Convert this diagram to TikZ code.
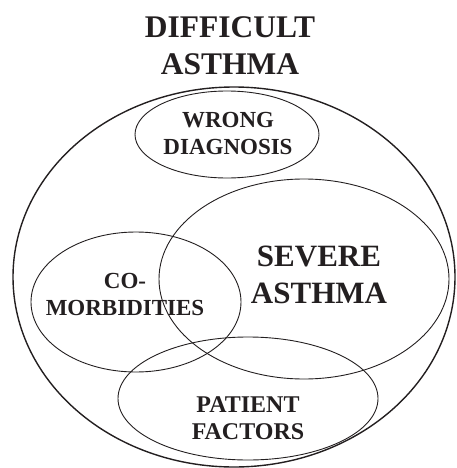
\documentclass[tikz,border=0pt]{standalone}
\usepackage{fontspec}
\setmainfont{Liberation Serif}
\usepackage{tikz}
\usetikzlibrary{positioning}
\definecolor{vInk}{HTML}{231F20}

\begin{document}
\begin{tikzpicture}[x=1pt, y=-1pt,
    setline/.style={draw=vInk, line width=0.9pt},
    outerline/.style={draw=vInk, line width=1.4pt},
    biglabel/.style={font=\fontsize{31.5}{37}\selectfont\bfseries, text=vInk, align=center, inner sep=0pt},
    setlabel/.style={font=\fontsize{23}{27}\selectfont\bfseries, text=vInk, align=center, inner sep=0pt},
    sevlabel/.style={font=\fontsize{31}{37}\selectfont\bfseries, text=vInk, align=center, inner sep=0pt}]
      \useasboundingbox (0,0) rectangle (456,468);
      % sets
      \draw[outerline] (234,277) ellipse [x radius=221, y radius=190];
      \draw[setline] (227,134.5) ellipse [x radius=92, y radius=43.5];
      \draw[setline] (304,279) ellipse [x radius=145, y radius=100];
      \draw[setline] (136,302) ellipse [x radius=105, y radius=70];
      \draw[setline] (248,398.5) ellipse [x radius=130, y radius=61.5];
      % labels
      \node[biglabel] (difficult) at (230,46) {DIFFICULT\\ASTHMA};
      \node[setlabel] (wrong) at (228,133) {WRONG\\DIAGNOSIS};
      \node[sevlabel] (severe) at (319,275) {SEVERE\\ASTHMA};
      \node[setlabel] (comorb) at (125,294.5) {CO-\\MORBIDITIES};
      \node[setlabel, font=\fontsize{24}{27}\selectfont\bfseries] (patient) at (248,418.5) {PATIENT\\FACTORS};
    \end{tikzpicture}
\end{document}
